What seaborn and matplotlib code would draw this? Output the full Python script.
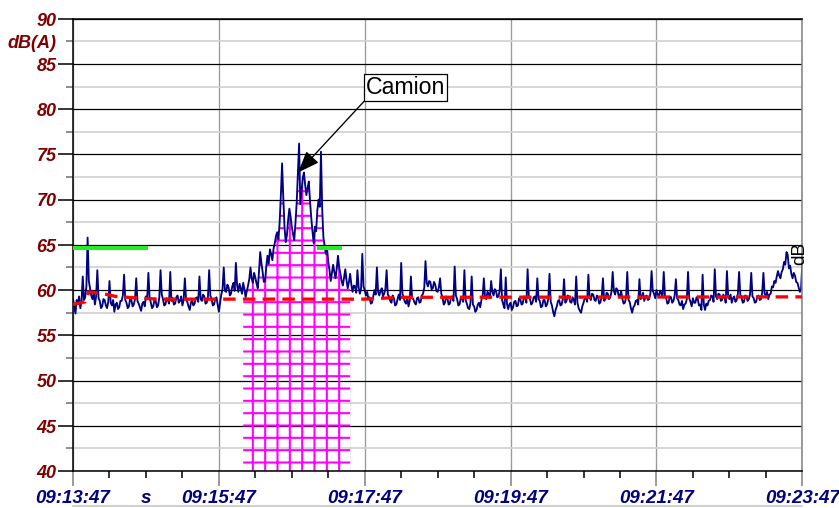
import numpy as np
import pandas as pd
import matplotlib
matplotlib.use("Agg")
import matplotlib.pyplot as plt
import seaborn as sns
from matplotlib.ticker import FixedLocator, FixedFormatter
from matplotlib.lines import Line2D

# Short-term sound level, one reading per second starting at 09:13:47
step_s = 1
level_db = [
    59.0, 58.2, 57.4, 58.9, 58.6, 59.3, 58.0, 58.7, 61.5, 58.9, 59.2, 60.4, 65.8, 61.0, 60.2, 59.4, 59.0, 59.6, 58.4, 59.3,
    62.2, 59.1, 58.8, 58.0, 58.2, 59.0, 58.9, 58.3, 58.0, 58.7, 61.0, 58.6, 58.3, 58.9, 57.6, 58.4, 58.6, 57.9, 58.1, 58.8,
    58.8, 59.4, 61.7, 58.9, 58.6, 58.0, 58.2, 59.1, 58.9, 58.2, 58.4, 59.0, 61.3, 58.8, 58.5, 58.1, 57.7, 58.5, 58.7, 58.2,
    59.3, 59.0, 61.9, 59.2, 58.6, 58.0, 58.2, 58.9, 58.8, 58.1, 58.3, 59.2, 62.2, 59.5, 59.0, 58.3, 58.4, 59.1, 58.9, 58.5,
    62.0, 58.8, 59.1, 58.4, 58.5, 59.2, 59.4, 58.6, 58.8, 59.3, 58.3, 58.9, 61.3, 59.0, 58.7, 58.2, 57.8, 58.6, 58.9, 58.3,
    58.5, 59.1, 59.2, 58.7, 61.5, 59.0, 58.8, 59.5, 59.3, 58.5, 58.6, 59.2, 62.2, 59.4, 59.0, 58.3, 58.4, 59.0, 59.2, 58.4,
    57.6, 58.6, 59.5, 60.1, 62.5, 59.9, 59.8, 60.6, 60.3, 59.4, 59.6, 60.4, 60.8, 59.9, 63.0, 60.5, 59.8, 60.7, 60.2, 59.6,
    60.8, 60.1, 59.2, 59.9, 60.5, 61.2, 62.5, 61.3, 60.8, 61.9, 61.4, 60.7, 60.2, 62.0, 64.2, 63.0, 62.0, 60.9, 61.0, 62.6,
    63.8, 62.9, 64.5, 64.0, 63.3, 64.6, 65.2, 66.0, 66.4, 65.6, 67.5, 70.5, 74.0, 70.2, 67.0, 65.3, 66.1, 67.8, 69.0, 68.1,
    67.0, 66.2, 65.5, 67.4, 69.6, 72.8, 76.2, 69.5, 71.0, 72.4, 73.0, 71.6, 70.5, 71.3, 72.0, 69.8, 68.0, 66.5, 65.2, 67.0,
    66.5, 68.8, 70.0, 69.2, 75.3, 69.0, 65.8, 64.9, 64.0, 64.6, 63.1, 62.2, 61.0, 61.9, 62.8, 62.0, 61.3, 62.4, 63.8, 62.5,
    61.8, 61.0, 60.5, 61.4, 62.3, 61.1, 60.2, 60.9, 61.8, 60.6, 59.8, 60.5, 60.4, 59.7, 62.2, 60.3, 59.6, 60.2, 64.0, 60.4,
    60.0, 59.4, 59.8, 59.0, 59.2, 58.5, 58.6, 59.3, 60.0, 59.5, 62.5, 59.8, 59.4, 59.9, 60.2, 59.3, 59.6, 60.1, 62.2, 59.5,
    59.3, 58.8, 58.6, 59.4, 59.1, 58.3, 58.4, 59.0, 59.5, 58.9, 63.0, 59.6, 59.2, 58.7, 58.5, 59.1, 58.2, 58.8, 61.5, 59.1,
    59.0, 58.6, 58.4, 59.1, 59.2, 58.6, 58.7, 59.4, 59.6, 60.3, 63.2, 60.8, 60.4, 61.0, 60.9, 60.1, 60.2, 60.9, 60.6, 59.9,
    59.8, 60.3, 61.3, 59.6, 59.2, 58.4, 58.6, 59.3, 59.1, 58.4, 58.5, 59.2, 59.3, 58.8, 62.6, 59.4, 59.0, 58.3, 58.4, 59.1,
    59.2, 58.7, 62.2, 58.9, 58.5, 58.0, 57.9, 58.6, 61.5, 58.4, 58.2, 57.6, 57.8, 58.4, 58.6, 58.1, 58.9, 59.3, 61.3, 59.2,
    59.0, 59.8, 59.6, 59.1, 61.0, 59.8, 59.4, 60.1, 59.9, 59.2, 59.3, 59.9, 62.3, 58.9, 58.4, 58.0, 61.4, 58.5, 57.9, 58.4,
    58.6, 57.8, 58.1, 58.7, 58.8, 58.2, 58.3, 59.1, 59.0, 58.4, 58.5, 59.3, 59.2, 58.6, 62.3, 59.3, 59.0, 58.4, 58.6, 59.2,
    59.3, 58.7, 61.3, 59.0, 58.8, 58.1, 58.2, 58.9, 58.9, 58.2, 58.4, 59.0, 61.8, 58.7, 58.3, 57.6, 57.1, 57.8, 58.2, 58.8,
    58.9, 58.3, 58.4, 59.0, 61.2, 58.6, 58.8, 59.4, 59.3, 58.7, 58.6, 59.2, 58.9, 58.4, 61.5, 58.6, 58.0, 57.7, 57.5, 58.2,
    58.6, 59.1, 59.2, 58.7, 61.7, 59.2, 58.9, 59.6, 59.5, 58.9, 58.8, 59.4, 59.2, 58.5, 58.7, 59.3, 61.3, 58.8, 59.0, 59.7,
    59.6, 59.0, 59.2, 59.8, 62.0, 59.9, 59.5, 60.2, 60.0, 59.3, 59.4, 59.9, 59.0, 58.5, 58.6, 59.2, 62.0, 58.9, 58.7, 58.0,
    57.5, 58.1, 58.3, 58.8, 58.9, 58.4, 61.2, 59.0, 59.2, 59.7, 58.8, 59.3, 59.4, 58.9, 59.0, 59.6, 62.1, 59.9, 59.6, 59.1,
    60.0, 59.5, 59.3, 59.9, 59.7, 59.2, 62.0, 59.4, 59.1, 58.5, 58.6, 59.3, 59.2, 58.6, 58.8, 59.4, 61.2, 59.1, 58.9, 58.4,
    58.3, 58.8, 57.9, 58.4, 58.5, 59.0, 62.0, 59.1, 58.7, 58.2, 59.1, 58.6, 58.6, 59.2, 59.0, 58.3, 58.4, 57.8, 61.7, 58.4,
    57.8, 58.5, 58.3, 58.8, 58.9, 59.4, 59.3, 58.7, 62.3, 59.3, 59.0, 59.6, 59.5, 58.8, 58.9, 59.5, 59.2, 58.6, 62.1, 59.4,
    59.0, 59.5, 58.6, 59.1, 59.3, 58.7, 58.9, 59.6, 62.0, 59.5, 59.2, 58.6, 58.7, 59.4, 59.3, 58.8, 59.0, 59.5, 61.9, 59.3,
    59.1, 58.6, 58.7, 59.3, 59.4, 58.9, 59.0, 59.7, 61.9, 59.6, 59.3, 59.8, 59.0, 59.5, 59.6, 60.4, 60.3, 61.0, 60.8, 61.5,
    62.1, 61.6, 61.3, 62.0, 62.3, 63.1, 62.8, 64.2, 63.9, 62.4, 62.7, 61.8, 61.3, 61.9, 61.6, 60.9, 60.8, 60.3, 59.8, 60.1,
    63.0,
]

# Running background level (dashed red): breakpoints in seconds and dB
ref_t = [0, 10, 13, 25, 35, 50, 70, 240, 270, 600]
ref_db = [58.4, 58.7, 59.8, 59.6, 59.3, 59.15, 59.0, 59.0, 59.2, 59.25]

# Threshold level and the periods it is drawn for (seconds)
threshold_db = 64.6
threshold_start = [0, 201]
threshold_end = [62, 221]

# Marked event (truck pass-by)
event_start, event_end = 140, 228
event_label = "Camion"
event_point = (185.2, 73.0)
event_text_pos = (273.9, 82.4)

# Axis ticks and labels
x_major = [0, 120, 240, 360, 480, 600]
x_major_labels = ["09:13:47", "09:15:47", "09:17:47", "09:19:47", "09:21:47", "09:23:47"]
x_minor = [30, 60, 90, 150, 180, 210, 270, 300, 330, 390, 420, 450, 510, 540, 570]
x_unit_at, x_unit = 60, "s"
y_major = [40, 45, 50, 55, 60, 65, 70, 75, 80, 85, 90]
y_minor = [42.5, 47.5, 52.5, 57.5, 62.5, 67.5, 72.5, 77.5, 82.5, 87.5]
y_unit_at, y_unit = 87.5, "dB(A)"

t = np.arange(len(level_db)) * step_s
df = pd.DataFrame({"t": t, "level": level_db})
ref_df = pd.DataFrame({"t": ref_t, "level": ref_db})

sns.set_style("white")
plt.rcParams["font.family"] = ["Liberation Sans", "DejaVu Sans"]
plt.rcParams["font.style"] = "italic"
plt.rcParams["font.weight"] = "bold"
plt.rcParams["hatch.color"] = "#ff00ff"
plt.rcParams["hatch.linewidth"] = 2.0

DPI = 74
fig = plt.figure(figsize=(839.3 / DPI, 508.3 / DPI), dpi=DPI)
fig.patch.set_facecolor("white")
ax = fig.add_axes([73 / 839, 37 / 508, 729 / 839, 452 / 508])

# Hatched area under the event
mask = (df["t"] >= event_start) & (df["t"] <= event_end)
ax.fill_between(df["t"], 40, df["level"], where=mask, facecolor="none",
                edgecolor="#ff00ff", hatch="+", linewidth=0, zorder=1.5)

sns.lineplot(data=df, x="t", y="level", color="#000080", linewidth=1.8,
             estimator=None, ax=ax, zorder=2)
sns.lineplot(data=ref_df, x="t", y="level", color="#ff0000", linewidth=3.2,
             estimator=None, linestyle=(0, (3.8, 2.2)), ax=ax, zorder=3)
ax.hlines([threshold_db] * len(threshold_start), threshold_start, threshold_end,
          color="#22ee22", linewidth=4, zorder=4)

ax.annotate(event_label, xy=event_point, xytext=event_text_pos,
            ha="center", va="center", fontsize=22.5, fontweight="normal",
            fontstyle="normal", color="black", zorder=6,
            bbox=dict(boxstyle="square,pad=0.08", fc="white", ec="black", lw=1.2),
            arrowprops=dict(arrowstyle="-|>,head_length=0.9,head_width=0.35",
                            color="black", lw=1.3, shrinkA=0, shrinkB=0,
                            relpos=(0, 0), mutation_scale=20))

ax.text(0.997, 0.482, "dB", transform=ax.transAxes, rotation=90,
        ha="center", va="center", fontsize=18.5, fontweight="normal",
        fontstyle="normal", color="black", zorder=6)

ax.set_xlim(0, 600)
ax.set_ylim(40, 90)
ax.set_xlabel("")
ax.set_ylabel("")

ax.xaxis.set_major_locator(FixedLocator(x_major))
ax.xaxis.set_major_formatter(FixedFormatter(x_major_labels))
ax.xaxis.set_minor_locator(FixedLocator(x_minor))
ax.xaxis.set_minor_formatter(FixedFormatter([x_unit if v == x_unit_at else "" for v in x_minor]))
ax.yaxis.set_major_locator(FixedLocator(y_major))
ax.yaxis.set_major_formatter(FixedFormatter([str(v) for v in y_major]))
ax.yaxis.set_minor_locator(FixedLocator(y_minor))
ax.yaxis.set_minor_formatter(FixedFormatter([y_unit if v == y_unit_at else "" for v in y_minor]))

ax.tick_params(axis="y", which="major", direction="out", length=15, width=1.5,
               color="black", pad=1, labelsize=17.5, labelcolor="#800000", left=True)
ax.tick_params(axis="y", which="minor", direction="out", length=7, width=1.5,
               color="#707070", pad=9, labelsize=17.5, labelcolor="#800000", left=True)
ax.tick_params(axis="x", which="major", direction="out", length=15, width=1.5,
               color="#808080", pad=3, labelsize=18.3, labelcolor="#000080", bottom=True)
ax.tick_params(axis="x", which="minor", direction="out", length=7, width=1.5,
               color="black", pad=11, labelsize=18.3, labelcolor="#000080", bottom=True)

ax.set_axisbelow(True)
ax.grid(which="major", axis="y", color="black", linewidth=1.2)
ax.grid(which="minor", axis="y", color="#d4d4d4", linewidth=1.8)
ax.grid(which="major", axis="x", color="#9a9a9a", linewidth=1.3)

for side in ("left", "bottom", "top"):
    ax.spines[side].set_color("black")
    ax.spines[side].set_linewidth(1.5)
ax.spines["right"].set_color("#808080")
ax.spines["right"].set_linewidth(1.5)

# Thin frame line along the bottom of the figure
fig.add_artist(Line2D([73 / 839, 802 / 839], [1.5 / 508, 1.5 / 508],
                      color="#d0d0d0", linewidth=2))

fig.savefig("out.png", dpi=DPI, facecolor="white")
